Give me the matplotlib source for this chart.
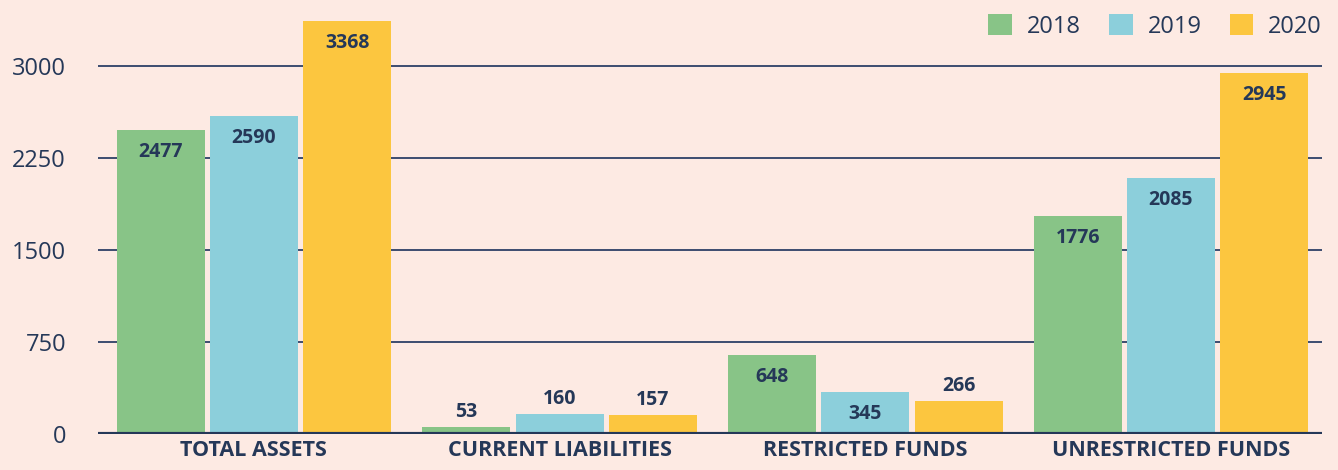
import numpy as np
import matplotlib.pyplot as plt

# data
categories = ["TOTAL ASSETS", "CURRENT LIABILITIES", "RESTRICTED FUNDS", "UNRESTRICTED FUNDS"]
years = ["2018", "2019", "2020"]
values_2018 = [2477, 53, 648, 1776]
values_2019 = [2590, 160, 345, 2085]
values_2020 = [3368, 157, 266, 2945]

bg = "#FDEAE3"
navy = "#253858"
colors = ["#88C487", "#8CCFDB", "#FCC63F"]

plt.rcParams['font.family'] = ['Open Sans', 'DejaVu Sans']

fig = plt.figure(figsize=(13.38, 4.70), dpi=100, facecolor=bg)
ax = fig.add_axes([98 / 1338, 36 / 470, (1322 - 98) / 1338, 434 / 470])
ax.set_facecolor(bg)

x = np.arange(len(categories))
width = 0.288
offsets = [-0.305, 0, 0.305]
series = [values_2018, values_2019, values_2020]

for vals, off, col, yr in zip(series, offsets, colors, years):
    bars = ax.bar(x + off, vals, width, color=col, label=yr, zorder=3)
    for b, v in zip(bars, vals):
        cx = b.get_x() + b.get_width() / 2
        # tall bars get the label inside, short ones above
        dy = -22 if v > 300 else 15
        ax.annotate(str(v), (cx, v), xytext=(0, dy), textcoords="offset pixels",
                    ha="center", va="center", fontsize=14, fontweight="bold",
                    color=navy, zorder=4)

ax.set_xlim(-0.51, 3.494)
ax.set_ylim(0, 3538)
ax.set_yticks([0, 750, 1500, 2250, 3000])
ax.yaxis.grid(True, color="#2D4066", linewidth=1.3, zorder=1)
ax.set_axisbelow(True)
ax.axhline(0, color=navy, linewidth=3, zorder=5)

for s in ax.spines.values():
    s.set_visible(False)
ax.tick_params(axis="y", length=0, pad=23, labelsize=17, labelcolor=navy)
ax.tick_params(axis="x", length=0, pad=4, labelsize=15.5, labelcolor=navy)
ax.set_xticks(x)
ax.set_xticklabels(categories, fontweight="bold")

leg = fig.legend(loc="upper right", bbox_to_anchor=(1322 / 1338, 1 - 14 / 470), ncol=3,
                 frameon=False, fontsize=17, handlelength=1.0, handleheight=1.0,
                 columnspacing=1.2, handletextpad=0.63, borderpad=0, borderaxespad=0)
for t in leg.get_texts():
    t.set_color(navy)

fig.savefig("out.png", dpi=100, facecolor=bg)
